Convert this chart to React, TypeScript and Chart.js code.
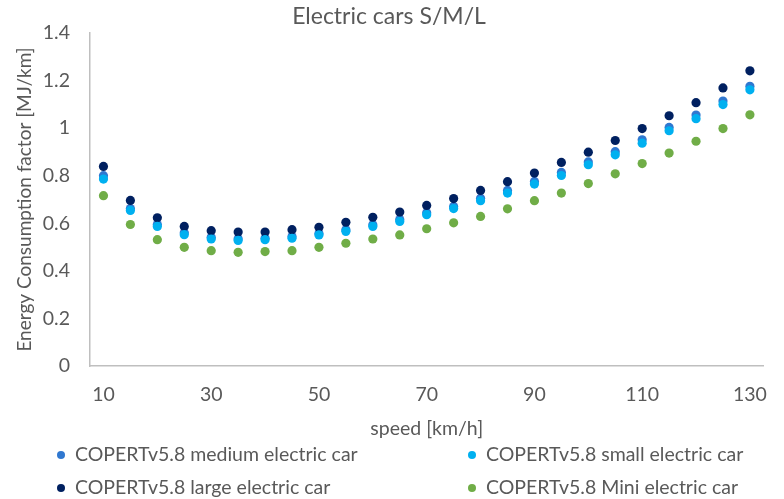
import React, { useEffect, useRef } from "react";
import { Chart, registerables } from "chart.js";

Chart.register(...registerables);

const speeds = [10, 15, 20, 25, 30, 35, 40, 45, 50, 55, 60, 65, 70, 75, 80, 85, 90, 95, 100, 105, 110, 115, 120, 125, 130];
const xTickValues = [10, 30, 50, 70, 90, 110, 130];

const mediumCar = [0.800, 0.662, 0.595, 0.560, 0.541, 0.535, 0.537, 0.544, 0.557, 0.573, 0.594, 0.616, 0.644, 0.671, 0.705, 0.738, 0.776, 0.814, 0.858, 0.901, 0.951, 1.003, 1.055, 1.114, 1.176];
const smallCar = [0.786, 0.654, 0.587, 0.552, 0.534, 0.528, 0.531, 0.537, 0.551, 0.566, 0.587, 0.608, 0.636, 0.662, 0.695, 0.727, 0.765, 0.801, 0.846, 0.888, 0.937, 0.989, 1.040, 1.099, 1.161];
const largeCar = [0.839, 0.696, 0.623, 0.587, 0.569, 0.563, 0.563, 0.573, 0.583, 0.604, 0.625, 0.647, 0.675, 0.704, 0.738, 0.775, 0.811, 0.856, 0.899, 0.948, 0.998, 1.052, 1.107, 1.169, 1.241];
const miniCar = [0.716, 0.595, 0.531, 0.499, 0.485, 0.478, 0.481, 0.485, 0.499, 0.516, 0.534, 0.551, 0.577, 0.602, 0.629, 0.661, 0.695, 0.727, 0.767, 0.808, 0.851, 0.895, 0.945, 0.998, 1.056];

const seriesLabels = [
  "COPERTv5.8 medium electric car",
  "COPERTv5.8 small electric car",
  "COPERTv5.8 large electric car",
  "COPERTv5.8 Mini electric car",
];
const seriesColors = ["#3078D0", "#00B0F0", "#002060", "#70AD47"];

const FONT = "Lato, 'Open Sans', sans-serif";
const TEXT = "#595959";

const legendPlugin = {
  id: "gridLegend",
  afterDraw(chart: any) {
    const ctx = chart.ctx;
    const cols = [61, 472];
    const rows = [455, 488];
    ctx.save();
    ctx.font = `19.5px ${FONT}`;
    ctx.textBaseline = "middle";
    ctx.textAlign = "left";
    chart.data.datasets.forEach((ds: any, i: number) => {
      const cx = cols[i % 2];
      const cy = rows[Math.floor(i / 2)];
      ctx.fillStyle = ds.backgroundColor;
      ctx.beginPath();
      ctx.arc(cx, cy, 4, 0, Math.PI * 2);
      ctx.fill();
      ctx.fillStyle = TEXT;
      ctx.fillText(ds.label, cx + 14, cy);
    });
    ctx.restore();
  },
};

export default function App() {
  const ref = useRef<HTMLCanvasElement>(null);
  useEffect(() => {
    document.body.style.margin = "0";
    const mk = (vals: number[]) => vals.map((v, i) => ({ x: speeds[i], y: v }));
    const datasets = [mediumCar, smallCar, largeCar, miniCar].map((vals, i) => ({
      label: seriesLabels[i],
      data: mk(vals),
      backgroundColor: seriesColors[i],
      borderColor: seriesColors[i],
      pointRadius: 4.6,
      pointBorderWidth: 0,
      showLine: false,
      order: i === 0 ? 1 : 0,
    }));
    const chart = new Chart(ref.current!, {
      type: "scatter",
      data: { datasets },
      plugins: [legendPlugin],
      options: {
        animation: false,
        responsive: true,
        maintainAspectRatio: false,
        layout: { padding: { left: 0, right: 6, top: 0, bottom: 59 } },
        plugins: {
          legend: { display: false },
          tooltip: { enabled: false },
          title: {
            display: true,
            text: "Electric cars S/M/L",
            color: TEXT,
            font: { family: FONT, size: 23, weight: "normal" },
            padding: { top: 3, bottom: 2.4 },
          },
        },
        scales: {
          x: {
            type: "linear",
            min: 7.5,
            max: 132.5,
            afterBuildTicks: (scale: any) => {
              scale.ticks = xTickValues.map((v) => ({ value: v }));
            },
            afterFit: (scale: any) => {
              scale.height = 74;
            },
            grid: { display: false, drawTicks: false },
            border: { display: true, color: "#BFBFBF", width: 1.5 },
            ticks: {
              color: TEXT,
              font: { family: FONT, size: 19.5 },
              padding: 17,
              maxRotation: 0,
              autoSkip: false,
            },
            title: {
              display: true,
              text: "speed [km/h]",
              color: TEXT,
              font: { family: FONT, size: 19.5 },
              padding: { top: 0, bottom: 0 },
            },
          },
          y: {
            min: 0,
            max: 1.4,
            afterFit: (scale: any) => {
              scale.width = 90;
            },
            grid: { display: false, drawTicks: false },
            border: { display: true, color: "#BFBFBF", width: 1.5 },
            ticks: {
              stepSize: 0.2,
              color: TEXT,
              font: { family: FONT, size: 19.5 },
              padding: 20,
              callback: (v: any) => String(Math.round(Number(v) * 10) / 10),
            },
            title: {
              display: true,
              text: "Energy Consumption factor [MJ/km]",
              color: TEXT,
              font: { family: FONT, size: 19 },
              padding: { top: 13, bottom: 0 },
            },
          },
        },
      },
    });
    return () => chart.destroy();
  }, []);
  return (
    <div style={{ position: "absolute", left: 0, top: 0, width: 784, height: 499 }}>
      <canvas ref={ref} />
    </div>
  );
}
